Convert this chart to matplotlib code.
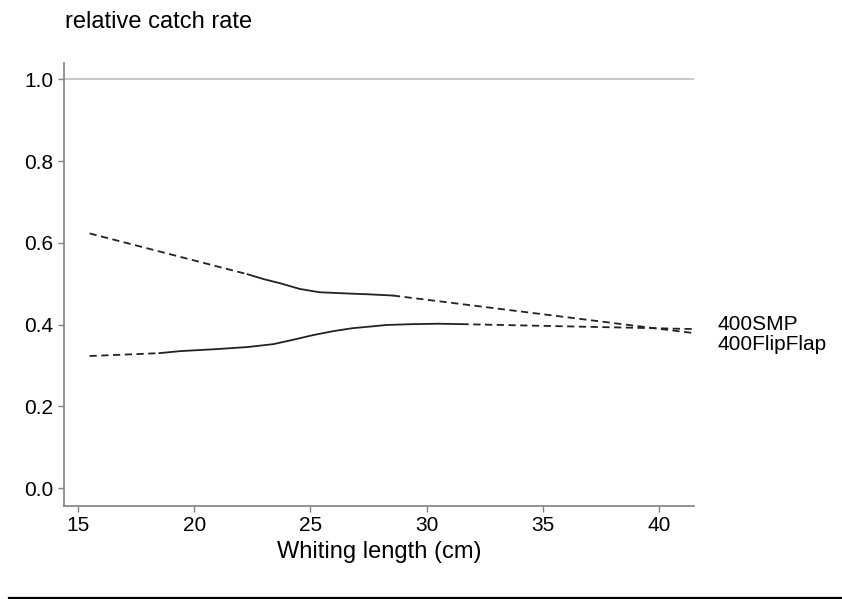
import matplotlib
matplotlib.use("Agg")
from matplotlib import pyplot as plt
from matplotlib.lines import Line2D

plt.rcParams['font.family'] = ['Liberation Sans', 'DejaVu Sans']

# upper curve: dashed extrapolation, solid over the observed range, dashed again
upper_x = [15.5, 22.3, 23.0, 23.7, 24.55, 25.4, 26.6, 27.5, 28.55, 41.5]
upper_y = [0.623, 0.523, 0.511, 0.501, 0.487, 0.479, 0.476, 0.474, 0.471, 0.379]
upper_solid = (1, 8)

# lower curve
lower_x = [15.5, 18.5, 19.4, 21.0, 22.3, 23.4, 24.2, 25.1, 26.0, 26.8, 28.3, 29.4, 30.5, 31.5, 41.5]
lower_y = [0.323, 0.330, 0.335, 0.340, 0.345, 0.352, 0.362, 0.374, 0.384, 0.391, 0.399, 0.401, 0.402, 0.401, 0.389]
lower_solid = (1, 13)

labels = ['400SMP', '400FlipFlap']
label_y = [0.40, 0.35]

x_ticks = [15, 20, 25, 30, 35, 40]
y_ticks = [0.0, 0.2, 0.4, 0.6, 0.8, 1.0]

fig = plt.figure(figsize=(8.42, 5.99), dpi=100)
ax = fig.add_axes([64 / 842, 1 - 506 / 599, (694 - 64) / 842, (506 - 63) / 599])

ax.axhline(1.0, color='#bdbdbd', lw=1.2, zorder=1)


def draw_curve(xs, ys, solid):
    a, b = solid
    ax.plot(xs[:a + 1], ys[:a + 1], color='#222222', lw=1.3, ls=(0, (4, 2.5)))
    ax.plot(xs[a:b + 1], ys[a:b + 1], color='#222222', lw=1.3, ls='-')
    ax.plot(xs[b:], ys[b:], color='#222222', lw=1.3, ls=(0, (4, 2.5)))


draw_curve(upper_x, upper_y, upper_solid)
draw_curve(lower_x, lower_y, lower_solid)

for lab, yy in zip(labels, label_y):
    ax.text(42.5, yy, lab, fontsize=15, va='center', ha='left', clip_on=False)

ax.set_xlim(14.4, 41.5)
ax.set_ylim(-0.044, 1.04)
ax.set_xticks(x_ticks)
ax.set_yticks(y_ticks)
ax.set_yticklabels(['%.1f' % v for v in y_ticks])

for side in ['top', 'right']:
    ax.spines[side].set_visible(False)
for side in ['left', 'bottom']:
    ax.spines[side].set_color('#808080')
    ax.spines[side].set_linewidth(1.2)
ax.tick_params(colors='#808080', labelcolor='black', labelsize=15, length=4, width=1)

ax.set_xlabel('Whiting length (cm)', fontsize=17, labelpad=4)

fig.text(65 / 842, 1 - 22 / 599, 'relative catch rate', fontsize=17, va='center', ha='left')

# rule along the bottom edge
fig.add_artist(Line2D([9 / 842, 1.0], [1.5 / 599, 1.5 / 599], color='black', lw=1.6,
                      transform=fig.transFigure))

plt.savefig('out.png', dpi=100)
